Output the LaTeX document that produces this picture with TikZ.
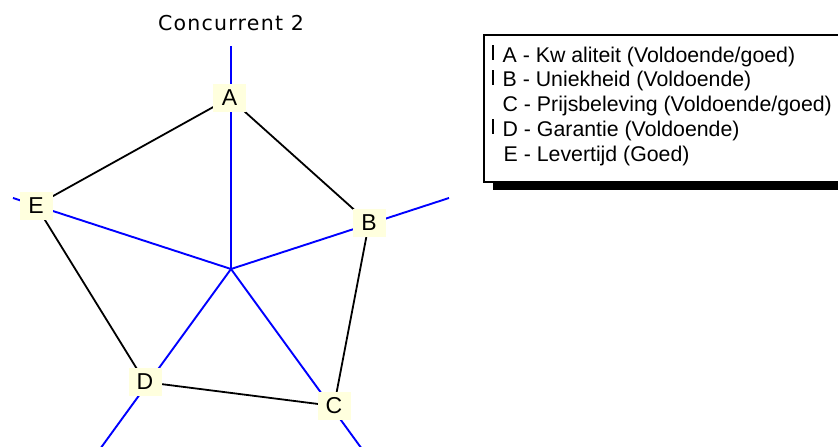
\documentclass[tikz,border=0pt]{standalone}
\usepackage{fontspec}
\setmainfont{Liberation Sans}
\newfontfamily\titlefont[LetterSpace=6]{DejaVu Sans}
\usetikzlibrary{backgrounds}
\definecolor{lblfill}{RGB}{255,255,222}
\begin{document}
\begin{tikzpicture}[x=1pt,y=-1pt,
  axisline/.style={draw=blue, line width=1.9pt},
  edgeline/.style={draw=black, line width=1.8pt},
  lbl/.style={fill=lblfill, minimum width=33pt, minimum height=28pt, inner sep=0pt,
    font=\fontsize{23}{23}\selectfont},
  legtext/.style={anchor=base west, inner sep=0pt, font=\fontsize{21.3}{21.3}\selectfont},
  legmark/.style={draw=black, line width=2.2pt}]
\useasboundingbox (0,0) rectangle (838,447);
\clip (0,0) rectangle (838,447);
% title
\node[anchor=base, inner sep=0pt, font=\titlefont\fontsize{20.5}{20.5}\selectfont] (title) at (231,30) {Concurrent 2};
% axis centre and ends
\coordinate (O) at (231,269);
\coordinate (endA) at (231,46);
\coordinate (endB) at (449,198);
\coordinate (endC) at (365.6,454);
\coordinate (endD) at (96.4,454);
\coordinate (endE) at (13,198);
% labels
\node[lbl] (A) at (229.5,98) {A};
\node[lbl] (B) at (369,223) {B};
\node[lbl] (C) at (334,406) {C};
\node[lbl] (D) at (145,382) {D};
\node[lbl] (E) at (36,205.5) {E};
\begin{scope}[on background layer]
  \foreach \p in {A,B,C,D,E} \draw[axisline] (O) -- (end\p);
  \draw[edgeline] (A.center) -- (B.center) -- (C.center) -- (D.center) -- (E.center) -- cycle;
\end{scope}
% legend
\fill[black] (493,182) rectangle (850,190);
\draw[line width=1.2pt, fill=white] (484,35) rectangle (850,182);
\node[legtext] (lA) at (502.5,62) {A - Kw aliteit (Voldoende/goed)};
\node[legtext] (lB) at (502.5,86.7) {B - Uniekheid (Voldoende)};
\node[legtext] (lC) at (502.5,111.5) {C - Prijsbeleving (Voldoende/goed)};
\node[legtext] (lD) at (502.5,136) {D - Garantie (Voldoende)};
\node[legtext] (lE) at (503.5,161) {E - Levertijd (Goed)};
\draw[legmark] (493,45) -- (493,60);
\draw[legmark] (493,70) -- (493,85);
\draw[legmark] (493,119) -- (493,134);
\end{tikzpicture}
\end{document}
